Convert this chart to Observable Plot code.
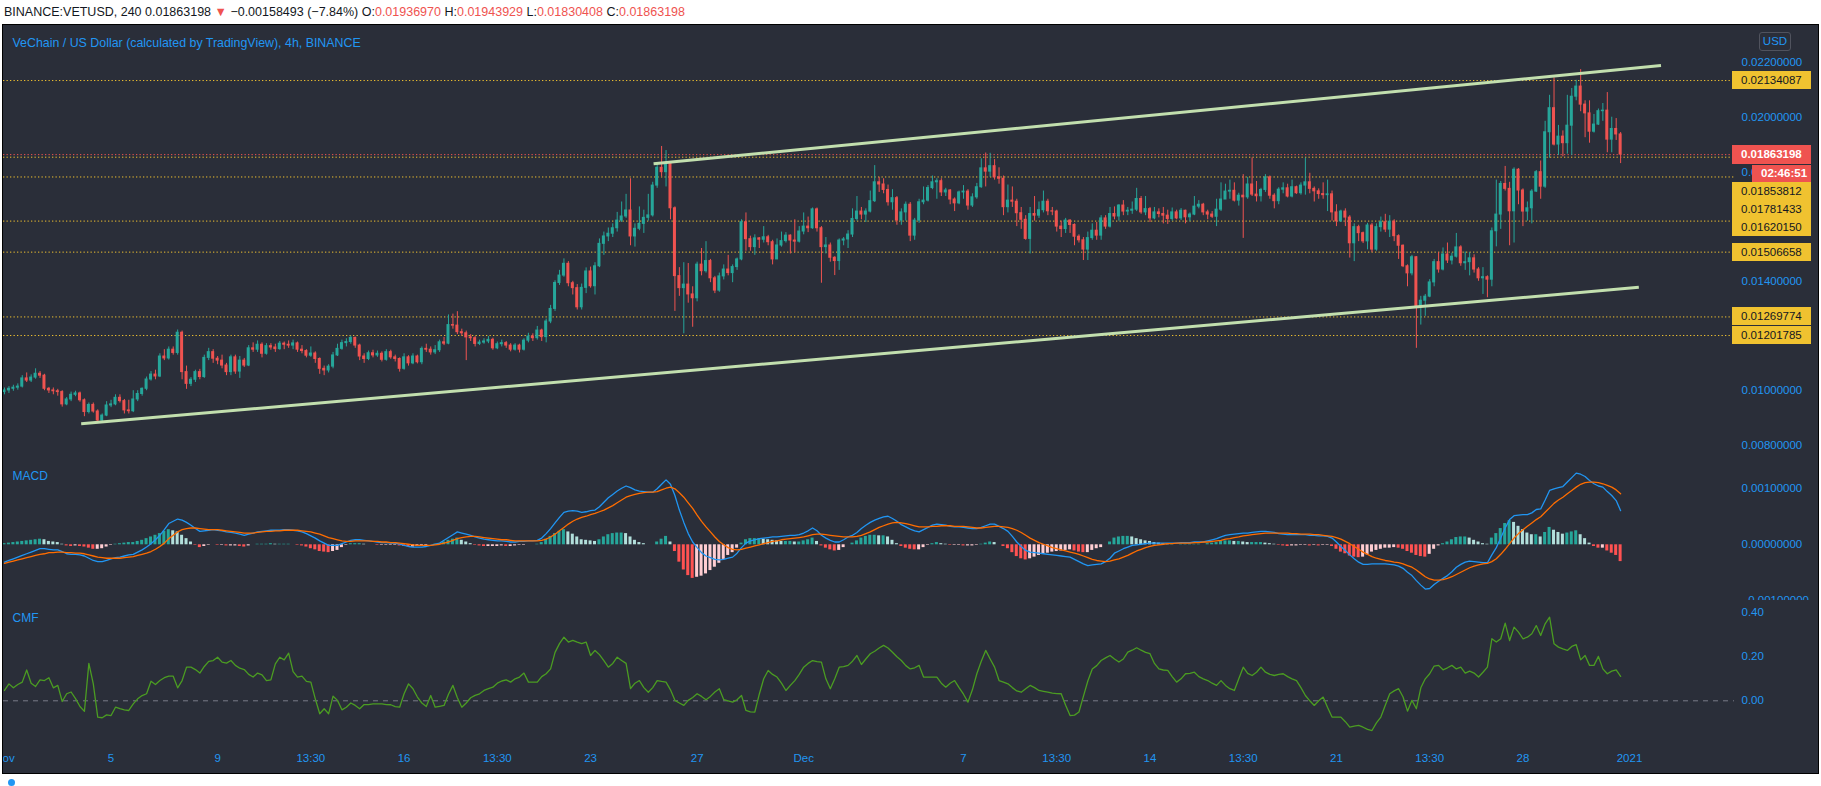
<!DOCTYPE html>
<html><head><meta charset="utf-8">
<script src="https://cdn.jsdelivr.net/npm/d3@7"></script>
<script src="https://cdn.jsdelivr.net/npm/@observablehq/plot@0.6"></script>
<style>
html,body{margin:0;padding:0;background:#fff}
body{width:1821px;height:786px;overflow:hidden;position:relative;font-family:"Liberation Sans",Arial,sans-serif}
#hdr{position:absolute;left:4px;top:3px;font-size:12.5px;line-height:18px;color:#131722;white-space:nowrap}
#hdr .r{color:#ef5350}
#frame{position:absolute;left:2px;top:24px;width:1815px;height:748px;border:1px solid #000;background:#2a2e39;overflow:hidden}
#frame svg{display:block}
.box{position:absolute;box-sizing:border-box;font-size:11.5px;white-space:nowrap;padding-left:9px}
#usd{position:absolute;left:1756px;top:7px;width:32px;height:19px;box-sizing:border-box;border:1px solid #50535e;border-radius:3px;color:#2196f3;font-size:11.5px;line-height:17px;text-align:center}
#icon{position:absolute;left:8px;top:779px;width:7px;height:7px;border-radius:50%;background:#2196f3}
</style></head>
<body>
<div id="hdr">BINANCE:VETUSD, 240 0.01863198 <span class="r">▼</span> −0.00158493 (−7.84%) O:<span class="r">0.01936970</span> H:<span class="r">0.01943929</span> L:<span class="r">0.01830408</span> C:<span class="r">0.01863198</span></div>
<div id="frame"></div>
<div id="icon"></div>
<script>
// ---- DATA (prices in units of 0.00001 USD, 4h candles from 2020-11-01 00:00 UTC) ----
const firstOpenE5 = 995;
const closeE5 = [
1001,1007,1011,1015,1045,1037,1048,1062,1055,1007,
1001,998,995,950,968,985,990,965,922,948,
924,891,909,946,950,974,962,928,925,968,
988,1007,1041,1059,1052,1125,1118,1150,1138,1212,
1068,1025,1040,1068,1050,1120,1141,1117,1110,1092,
1068,1122,1070,1110,1092,1155,1150,1168,1135,1163,
1158,1152,1172,1168,1165,1173,1150,1145,1128,1136,
1116,1080,1074,1088,1129,1153,1174,1178,1193,1165,
1125,1116,1137,1129,1135,1113,1141,1122,1116,1080,
1122,1100,1125,1104,1153,1150,1140,1148,1177,1172,
1240,1238,1214,1210,1195,1192,1171,1176,1180,1186,
1155,1170,1174,1165,1150,1165,1150,1183,1198,1192,
1220,1196,1253,1299,1394,1421,1464,1393,1375,1305,
1376,1436,1382,1455,1537,1564,1574,1594,1622,1637,
1659,1564,1592,1610,1632,1641,1750,1815,1799,1830,
1667,1419,1375,1388,1352,1338,1461,1437,1474,1411,
1366,1418,1443,1430,1452,1480,1616,1554,1525,1557,
1552,1561,1543,1480,1531,1547,1567,1549,1545,1582,
1600,1594,1663,1594,1525,1531,1486,1474,1549,1553,
1571,1628,1655,1644,1655,1693,1762,1754,1734,1689,
1704,1622,1652,1680,1567,1622,1689,1695,1741,1762,
1766,1725,1732,1699,1685,1725,1728,1677,1707,1744,
1813,1801,1821,1780,1775,1671,1695,1691,1649,1625,
1555,1646,1640,1660,1691,1656,1655,1600,1591,1622,
1606,1563,1550,1516,1558,1585,1567,1630,1600,1646,
1637,1677,1655,1658,1662,1701,1652,1664,1630,1652,
1646,1640,1628,1652,1630,1658,1634,1644,1673,1680,
1652,1644,1636,1662,1699,1728,1731,1695,1713,1707,
1754,1717,1711,1734,1780,1713,1693,1735,1740,1710,
1744,1722,1750,1762,1738,1729,1719,1715,1718,1652,
1619,1655,1633,1539,1598,1576,1546,1604,1516,1598,
1616,1589,1618,1565,1530,1455,1429,1488,1307,1329,
1344,1396,1470,1443,1498,1476,1490,1524,1466,1470,
1484,1443,1411,1415,1406,1583,1644,1756,1738,1656,
1808,1732,1655,1667,1728,1799,1746,1945,2033,1900,
1929,1905,1969,2075,2112,2046,2014,1947,1973,2022,
2024,1918,1957,1936.97,1863.198];
const highE5 = [
1010,1015,1020,1025,1055,1065,1058,1080,1070,1060,
1012,1010,1005,1000,975,995,998,995,970,955,
955,930,915,960,965,985,985,968,965,1000,
1000,1010,1050,1070,1075,1135,1150,1160,1160,1222,
1218,1090,1048,1075,1078,1130,1155,1150,1125,1130,
1100,1130,1130,1125,1118,1165,1175,1182,1175,1172,
1172,1170,1180,1178,1182,1185,1178,1165,1150,1160,
1142,1120,1090,1095,1140,1170,1185,1190,1200,1196,
1170,1135,1145,1148,1145,1142,1150,1148,1130,1120,
1135,1128,1135,1130,1160,1170,1160,1165,1185,1195,
1277,1280,1289,1225,1218,1205,1198,1185,1190,1198,
1192,1178,1185,1180,1172,1172,1170,1190,1210,1208,
1235,1225,1262,1312,1402,1440,1482,1472,1400,1388,
1390,1449,1452,1468,1555,1580,1595,1610,1652,1690,
1718,1775,1610,1672,1660,1718,1762,1830,1893,1878,
1835,1672,1450,1468,1465,1380,1470,1520,1545,1480,
1418,1430,1460,1495,1460,1485,1625,1650,1565,1570,
1560,1600,1568,1550,1555,1580,1578,1570,1625,1600,
1650,1635,1668,1668,1600,1560,1540,1490,1555,1560,
1585,1665,1710,1670,1665,1730,1823,1780,1775,1752,
1735,1710,1665,1690,1688,1630,1700,1745,1750,1785,
1775,1775,1740,1735,1705,1730,1750,1735,1720,1758,
1848,1869,1868,1845,1815,1785,1752,1745,1700,1670,
1640,1670,1710,1690,1730,1700,1670,1660,1620,1630,
1625,1610,1570,1560,1580,1610,1615,1640,1640,1670,
1672,1680,1695,1670,1690,1740,1710,1710,1670,1670,
1665,1670,1660,1668,1660,1666,1660,1650,1710,1695,
1685,1660,1655,1700,1760,1755,1770,1760,1722,1790,
1780,1851,1765,1740,1790,1785,1720,1742,1760,1755,
1770,1748,1760,1850,1795,1745,1738,1760,1770,1730,
1680,1660,1665,1640,1610,1605,1580,1612,1612,1610,
1635,1645,1640,1625,1570,1533,1460,1495,1490,1345,
1352,1406,1480,1505,1522,1540,1503,1575,1530,1507,
1505,1497,1450,1450,1420,1595,1770,1765,1820,1762,
1815,1812,1738,1690,1735,1805,1840,1985,2080,2144,
1970,1950,2080,2105,2135,2174,2060,2060,2010,2030,
2050,2090,2000,1995,1943.929];
const lowE5 = [
985,990,998,1002,1010,1030,1030,1042,1045,1000,
990,985,980,940,945,960,978,958,905,915,
918,880,885,905,938,945,955,915,915,920,
960,980,1000,1035,1040,1048,1110,1112,1130,1130,
1040,1005,1015,1030,1040,1045,1110,1100,1095,1080,
1055,1055,1060,1045,1085,1088,1140,1140,1120,1130,
1148,1140,1148,1150,1155,1150,1140,1135,1120,1122,
1100,1060,1055,1065,1080,1125,1148,1160,1170,1155,
1110,1100,1110,1120,1122,1105,1108,1115,1105,1068,
1075,1090,1095,1098,1095,1140,1130,1132,1140,1165,
1168,1225,1205,1200,1110,1180,1160,1165,1170,1172,
1148,1150,1160,1155,1142,1145,1138,1145,1175,1180,
1185,1180,1175,1245,1290,1385,1415,1380,1350,1295,
1295,1355,1375,1350,1450,1495,1545,1560,1580,1615,
1630,1530,1525,1585,1575,1620,1635,1740,1782,1745,
1625,1290,1345,1208,1320,1232,1325,1420,1430,1395,
1355,1360,1405,1420,1395,1440,1475,1510,1510,1495,
1520,1540,1530,1460,1480,1525,1540,1500,1505,1540,
1570,1578,1590,1580,1393,1500,1470,1421,1440,1530,
1520,1560,1620,1625,1615,1650,1688,1725,1720,1675,
1660,1605,1605,1620,1545,1550,1612,1680,1690,1735,
1700,1710,1710,1680,1655,1680,1700,1660,1670,1700,
1740,1745,1780,1770,1755,1640,1650,1670,1600,1590,
1550,1500,1620,1630,1650,1640,1640,1580,1560,1575,
1575,1530,1540,1476,1476,1550,1550,1550,1590,1595,
1625,1620,1640,1640,1645,1655,1645,1640,1615,1625,
1632,1610,1608,1620,1625,1622,1610,1618,1640,1665,
1640,1625,1630,1600,1655,1720,1700,1690,1675,1557,
1700,1710,1690,1690,1725,1700,1665,1680,1720,1705,
1705,1718,1715,1715,1720,1690,1700,1700,1655,1620,
1600,1615,1600,1485,1472,1545,1538,1515,1505,1510,
1580,1578,1560,1545,1480,1450,1380,1420,1155,1240,
1272,1340,1380,1430,1438,1465,1460,1485,1455,1440,
1420,1430,1400,1352,1340,1380,1526,1590,1730,1530,
1540,1680,1600,1620,1610,1725,1700,1740,1850,1895,
1860,1855,1865,1860,2060,2020,1925,1905,1942,1970,
1985,1870,1870,1915,1830.408];
// MACD(12,26,9) line and signal line, units of 0.00001
const macdE5 = [
-31,-28,-25,-22,-19,-16,-13,-10,-7,-7,
-8,-9,-9,-12,-16,-17,-17,-18,-20,-24,
-28,-30,-30,-28,-25,-23,-22,-20,-18,-17,
-13,-9,-4,2,9,17,27,38,42,46,
44,40,35,29,24,25,26,27,26,25,
23,22,21,19,17,19,21,23,24,25,
26,26,26,27,27,26,25,23,20,16,
12,7,3,-1,-1,-1,2,5,8,9,
9,8,7,6,5,4,4,3,3,1,
-1,-3,-4,-4,-4,-3,-1,1,3,8,
13,18,23,21,19,17,14,12,10,9,
8,7,7,6,5,5,6,6,7,7,
8,12,20,29,39,49,58,60,61,60,
58,59,61,62,68,76,84,90,96,101,
105,102,98,96,95,94,94,100,108,116,
108,88,62,40,20,5,-5,-14,-20,-23,
-26,-27,-26,-24,-22,-15,-5,3,7,9,
11,12,13,14,14,15,16,17,17,18,
21,25,30,25,17,12,8,5,5,9,
14,17,22,29,35,40,44,47,50,51,
47,42,36,32,28,25,23,27,31,35,
37,36,35,33,32,32,31,30,29,29,
31,34,37,37,33,29,24,15,5,-3,
-10,-13,-14,-15,-16,-17,-18,-19,-20,-21,
-22,-26,-30,-34,-37,-36,-35,-34,-30,-24,
-15,-11,-7,-4,-1,0,1,2,3,3,
3,3,3,3,3,4,4,4,5,5,
5,7,9,11,14,17,18,19,20,21,
21,22,23,24,24,23,22,20,19,18,
18,18,18,18,17,17,16,16,15,12,
5,-3,-10,-18,-25,-31,-35,-35,-34,-34,
-34,-34,-35,-36,-38,-42,-49,-55,-64,-72,
-79,-78,-71,-65,-60,-55,-48,-40,-35,-31,
-29,-30,-31,-32,-32,-18,-5,12,30,45,
52,53,54,54,57,63,64,80,97,100,
102,104,112,120,128,126,122,115,109,105,
103,95,88,79,61];
const signalE5 = [
-33,-31,-29,-27,-25,-23,-21,-19,-17,-16,
-14,-14,-13,-13,-14,-14,-15,-15,-16,-18,
-20,-22,-23,-24,-24,-24,-24,-23,-22,-21,
-19,-17,-15,-12,-8,-3,3,11,17,23,
27,29,30,30,29,28,27,27,27,26,
25,24,23,22,21,21,21,22,23,24,
24,25,25,26,26,26,26,25,24,23,
21,19,16,13,11,9,7,6,6,7,
7,7,7,6,6,5,5,4,4,3,
2,1,0,-1,-1,-1,-1,0,1,3,
5,8,11,13,14,15,15,14,13,12,
11,10,9,9,8,7,7,7,7,7,
7,8,10,14,19,25,31,37,42,46,
49,51,54,56,59,62,66,70,75,80,
85,88,90,92,93,94,94,95,98,101,
103,100,93,85,75,65,53,42,32,23,
14,6,0,-5,-8,-9,-8,-6,-4,-2,
0,2,4,6,7,9,10,11,12,13,
14,16,18,19,19,18,17,16,15,14,
14,14,15,17,20,23,27,31,34,37,
39,40,39,38,36,34,32,32,32,33,
33,34,34,34,33,33,33,32,31,30,
30,31,32,33,33,32,31,29,26,22,
17,12,8,4,1,-2,-5,-7,-9,-11,
-13,-15,-17,-20,-23,-26,-28,-29,-30,-29,
-27,-25,-22,-19,-15,-11,-8,-5,-3,-1,
0,1,2,2,3,3,3,3,4,4,
5,5,6,7,8,10,11,13,14,16,
17,18,19,20,21,21,21,21,21,21,
20,20,19,19,19,18,18,17,16,15,
13,10,6,2,-3,-8,-13,-17,-21,-24,
-26,-28,-29,-31,-32,-34,-37,-40,-45,-51,
-57,-61,-63,-63,-62,-60,-57,-53,-49,-45,
-41,-38,-36,-34,-33,-30,-25,-17,-8,2,
12,20,27,33,39,45,50,58,66,74,
80,85,91,97,103,108,111,112,112,111,
109,106,103,98,91];
// Chaikin Money Flow, units of 0.01
const cmfE2 = [
4.7,7.7,5.9,7.4,8.5,14,8,6.5,9.5,9.2,
10.5,5.9,7,-0.3,3.2,4,1,-2.6,-4.8,17,
7.7,-7.4,-7.7,-6.4,-6.7,-2.9,-3.6,-4.1,-4.4,-1.4,
0.9,2.4,3.2,8.9,7.4,9.2,10.5,11.2,11.2,5.9,
9.2,15.3,15.3,14.2,12.6,15.6,17.9,18.3,19.8,17.6,
17.1,18.3,16.1,14.8,14.2,12,10.8,12.6,11.8,9.2,
9.5,16.8,19.8,18.6,21.7,13.3,10.8,11.2,8.8,8.5,
0.9,-5.9,-3.6,-5.9,2.1,0.2,-4.1,-2.9,-1,-2.1,
-3.6,-1.7,-1.7,-1.4,-1.4,-1.4,-1.7,-1.8,-2.6,-2.9,
3.2,7.7,5.5,1.7,-1,-2.6,2.4,-2.9,-2.5,-2.1,
3,7,1.4,-2.9,-1,1.4,2.5,3.2,4.7,5.5,
6.2,8,9,9.5,8.5,10,10.8,12.6,8.5,8.5,
8.5,11,12.3,14.5,22,26,28.9,26.7,27.5,26.7,
26,26.7,20.6,22.9,21,18.3,15.3,17,19.8,18.3,
17,5.5,8,9.2,6,3.9,6,9.2,8.8,8.5,
5,0.2,-1,-2.1,0.2,1.5,3.2,2,0.5,2,
4,5.5,0.5,0,-0.6,0.5,2.4,-4.4,-5,-5.1,
3,10,13.8,12,10.8,8,4.7,7,9.2,12,
15.3,17,18.3,17.8,17.6,10,5.5,10,15.3,15.5,
16.1,18,20.6,16.5,19,21.4,22.5,24,25.2,24,
22.1,20,18.3,16,14.5,15,16.1,10.8,10.8,10.8,
10.8,8,6.2,8,9.2,6,3,-0.6,5,12.3,
18,22.9,19,15.3,9.2,8.5,7.7,6,4.5,3.9,
5.5,7,6,4.7,4.3,3.9,3.5,3.3,3.2,-2,
-6.7,-6.5,-5.1,2,9,14.5,16,18.3,19.5,20.6,
19,17.6,19,22.1,23,24.1,23,22,21.4,17,
14.5,14,13.8,11,8.5,10,12.3,12.5,13,11,
10,9.2,8,7,9.2,7,5.5,4.7,10,15.3,
12.5,11.5,13,15.3,13,12,11.5,12,12.3,11,
10,9.2,6,2.4,0,-2.1,0,1.7,-3,-7.4,
-7.4,-7.4,-9.5,-12,-11.5,-11.2,-12,-13,-13.5,-10,
-7.4,-2,3.2,4.5,5.5,1.7,-4.7,0.2,-3.6,5.9,
10,12.3,15.8,16.1,14.1,15,16.1,14.5,15.3,12.6,
13.5,12.6,10.8,13,15.3,28.2,26.7,28.2,35.3,27.4,
33.5,31.2,28.2,28.9,30.5,34.2,29.7,35,38,25.9,
24.4,23.6,22.9,24.7,25.5,18.6,20.6,16.1,16.1,20.2,
14.5,12.3,13.5,14.1,11.1];
// horizontal levels drawn on the chart
const levels = [0.02134087, 0.01853812, 0.01781433, 0.0162015, 0.01506658, 0.01269774, 0.01201785];
const lastPrice = 0.01863198;
const countdown = "02:46:51";
// channel trend lines
const upperTrend = [{date: "2020-11-25T08:48Z", price: 0.018296}, {date: "2021-01-02T04:24Z", price: 0.02189}];
const lowerTrend = [{date: "2020-11-03T21:05Z", price: 0.00879}, {date: "2021-01-01T08:24Z", price: 0.01378}];
// axis ticks
const priceTicks = [0.008, 0.010, 0.012, 0.014, 0.016, 0.018, 0.020, 0.022];
const macdTicks = [-0.001, 0, 0.001];
const cmfTicks = [0, 0.2, 0.4];
const tickDates = ["2020-11-01T00:00Z","2020-11-05T00:00Z","2020-11-09T00:00Z","2020-11-12T12:00Z","2020-11-16T00:00Z","2020-11-19T12:00Z","2020-11-23T00:00Z","2020-11-27T00:00Z","2020-12-01T00:00Z","2020-12-07T00:00Z","2020-12-10T12:00Z","2020-12-14T00:00Z","2020-12-17T12:00Z","2020-12-21T00:00Z","2020-12-24T12:00Z","2020-12-28T00:00Z","2021-01-01T00:00Z"];
const tickLabels = ["Nov","5","9","13:30","16","13:30","23","27","Dec","7","13:30","14","13:30","21","13:30","28","2021"];
const title = "VeChain / US Dollar (calculated by TradingView), 4h, BINANCE";

// ---- TABLES ----
const START = Date.UTC(2020, 10, 1, 0, 0);
const STEP = 4 * 3600 * 1000;
const candles = closeE5.map((c, i) => ({
  date: new Date(START + i * STEP),
  open: (i ? closeE5[i - 1] : firstOpenE5) / 1e5,
  close: c / 1e5, high: highE5[i] / 1e5, low: lowE5[i] / 1e5
}));
const macdRows = macdE5.map((m, i) => ({date: candles[i].date, macd: m / 1e5, signal: signalE5[i] / 1e5, hist: (m - signalE5[i]) / 1e5}));
macdRows.forEach((d, i) => {
  const prev = i ? macdRows[i - 1].hist : d.hist;
  d.color = d.hist >= 0 ? (d.hist >= prev ? "#26a69a" : "#b2dfdb") : (d.hist < prev ? "#ff5252" : "#ffcdd2");
});
const cmfRows = cmfE2.map((v, i) => ({date: candles[i].date, cmf: v / 100}));
const up = upperTrend.map(d => ({date: new Date(d.date), price: d.price}));
const lo = lowerTrend.map(d => ({date: new Date(d.date), price: d.price}));
const tDates = tickDates.map(d => new Date(d));
const labelOf = new Map(tDates.map((d, i) => [+d, tickLabels[i]]));

const W = 1815, MR = 84;
const xDomain = [new Date("2020-10-31T23:06Z"), new Date("2021-01-04T22:36Z")];
const FONT = "Liberation Sans, Arial, sans-serif";
const baseStyle = {background: "transparent", color: "#2196f3", fontFamily: FONT, fontSize: "11.5px", overflow: "hidden"};
const yAxis = {axis: "right", tickSize: 0, tickPadding: 7, label: null};
const GREEN = "#26a69a", RED = "#ef5350", YEL = "#f0c230";

const price = Plot.plot({
  width: W, height: 430, marginLeft: 0, marginRight: MR, marginTop: 0, marginBottom: 0,
  style: baseStyle,
  x: {type: "utc", domain: xDomain, axis: null},
  y: {...yAxis, domain: [0.007631, 0.023353], ticks: priceTicks, tickFormat: d => d.toFixed(8)},
  marks: [
    Plot.ruleY(levels, {stroke: YEL, strokeDasharray: "1.3,2.2", strokeWidth: 1}),
    Plot.ruleY([lastPrice], {stroke: RED, strokeDasharray: "1.3,2.2", strokeWidth: 1}),
    Plot.ruleX(candles, {x: "date", y1: "low", y2: "high", stroke: d => d.close >= d.open ? GREEN : RED, strokeWidth: 1}),
    Plot.rect(candles, {x1: "date", x2: "date", y1: "open", y2: "close", fill: d => d.close >= d.open ? GREEN : RED,
      insetLeft: -1.5, insetRight: -1.5, insetTop: -0.5, insetBottom: -0.5}),
    Plot.line(up, {x: "date", y: "price", stroke: "#c2dfae", strokeWidth: 3, strokeLinecap: "butt"}),
    Plot.line(lo, {x: "date", y: "price", stroke: "#c2dfae", strokeWidth: 3, strokeLinecap: "butt"}),
    Plot.text([title], {text: d => d, frameAnchor: "top-left", dx: 9, dy: 17.5, textAnchor: "start", lineAnchor: "middle", fill: "#2196f3", fontSize: 12.4})
  ]
});

const macd = Plot.plot({
  width: W, height: 145, marginLeft: 0, marginRight: MR, marginTop: 0, marginBottom: 0,
  style: baseStyle,
  x: {type: "utc", domain: xDomain, axis: null},
  y: {...yAxis, domain: [-0.0009946, 0.0015946], ticks: macdTicks, tickFormat: d => (d < 0 ? "−" : "") + Math.abs(d).toFixed(8)},
  marks: [
    Plot.rect(macdRows, {x1: "date", x2: "date", y1: 0, y2: "hist", fill: "color", insetLeft: -1.5, insetRight: -1.5}),
    Plot.line(macdRows, {x: "date", y: "macd", stroke: "#2196f3", strokeWidth: 1.3}),
    Plot.line(macdRows, {x: "date", y: "signal", stroke: "#ff6d00", strokeWidth: 1.3}),
    Plot.text(["MACD"], {text: d => d, frameAnchor: "top-left", dx: 9, dy: 21, textAnchor: "start", lineAnchor: "middle", fill: "#2196f3", fontSize: 12})
  ]
});

const cmf = Plot.plot({
  width: W, height: 173, marginLeft: 0, marginRight: MR, marginTop: 0, marginBottom: 31,
  style: baseStyle,
  x: {type: "utc", domain: xDomain, ticks: tDates, tickFormat: d => labelOf.get(+d), tickSize: 0, tickPadding: 11, label: null},
  y: {...yAxis, domain: [-0.1895, 0.4559], ticks: cmfTicks, tickFormat: d => d.toFixed(2)},
  marks: [
    Plot.ruleY([0], {stroke: "#787b86", strokeDasharray: "5,5", strokeWidth: 1}),
    Plot.line(cmfRows, {x: "date", y: "cmf", stroke: "#4b9c22", strokeWidth: 1.3}),
    Plot.text(["CMF"], {text: d => d, frameAnchor: "top-left", dx: 9, dy: 18, textAnchor: "start", lineAnchor: "middle", fill: "#2196f3", fontSize: 12})
  ]
});

const frame = document.getElementById("frame");
frame.append(price, macd, cmf);

// ---- price-axis labels, positioned from the price plot's own y scale ----
const ys = (() => { const s = price.scale("y"); return s.apply ? (v => s.apply(v)) : d3.scaleLinear(s.domain, s.range); })();
function box(top, h, left, w, bg, fg, txt, bold) {
  const b = document.createElement("div");
  b.className = "box";
  Object.assign(b.style, {top: top + "px", height: h + "px", lineHeight: h + "px", left: left + "px", width: w + "px", background: bg, color: fg, fontWeight: bold ? "bold" : "normal"});
  b.textContent = txt;
  frame.append(b);
}
const items = levels.map(v => ({v, last: false})).concat([{v: lastPrice, last: true}]).sort((a, b) => ys(a.v) - ys(b.v));
let bottom = -Infinity;
for (const it of items) {
  const c = Math.max(ys(it.v), bottom + 9);
  if (it.last) {
    box(c - 9, 18.5, 1729, 79, RED, "#fff", it.v.toFixed(8), true);
    box(c + 10.5, 17, 1749, 59, RED, "#fff", countdown, true);
    bottom = c + 27.5;
  } else {
    box(c - 9, 18, 1729, 79, YEL, "#131722", it.v.toFixed(8), false);
    bottom = c + 9;
  }
}
const usd = document.createElement("div");
usd.id = "usd"; usd.textContent = "USD";
frame.append(usd);
</script>
</body></html>
